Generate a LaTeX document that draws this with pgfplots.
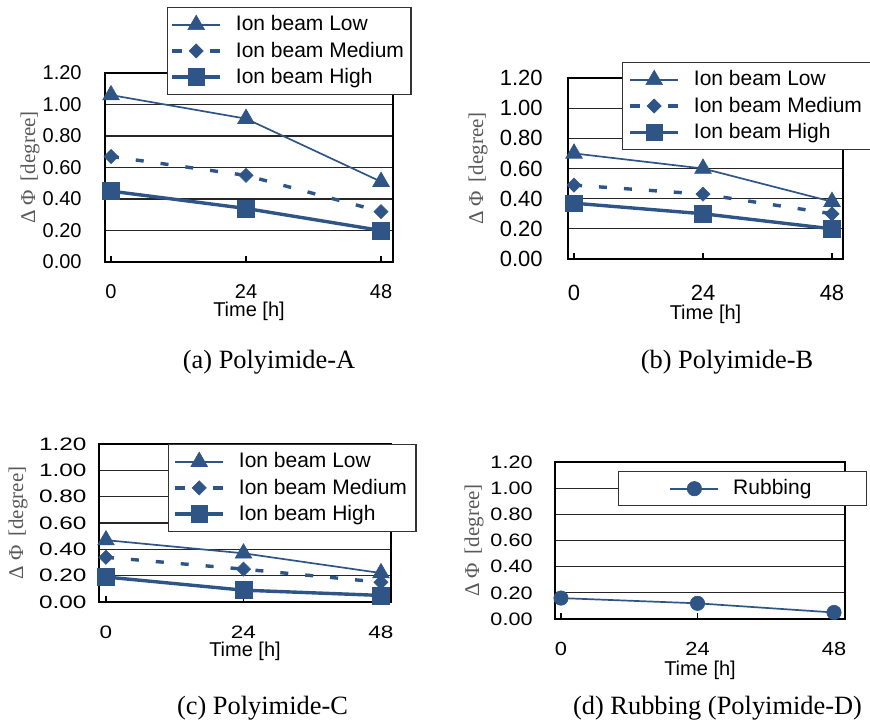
\documentclass[border=0pt]{standalone}
\usepackage{fontspec}
\setmainfont{Liberation Sans}
\newfontfamily\tnr{Liberation Serif}
\usepackage{pgfplots}
\pgfplotsset{compat=1.18}
\definecolor{dblue}{HTML}{2F5587}

\pgfplotsset{
  panel/.style={
    scale only axis, anchor=south west, clip=false,
    ymin=0, ymax=1.2,
    ytick={0,0.2,0.4,0.6,0.8,1.0,1.2},
    yticklabels={0.00,0.20,0.40,0.60,0.80,1.00,1.20},
    xtick={0,24,48}, xticklabels={0,24,48},
    ymajorgrids, grid style={black!85, line width=0.6pt},
    axis line style={line width=1.3pt},
    tick align=inside, xtick pos=left, ytick style={draw=none},
    xtick style={black, line width=0.6pt}, major tick length=3pt,
    xlabel={Time [h]},
    ylabel={Δ Φ \,[degree]},
    legend cell align=left,
    legend style={draw=black!80, line width=0.6pt, fill=white,
      inner xsep=1.5pt, inner ysep=2pt, column sep=5pt,
      font=\fontsize{10.5}{12}\selectfont,
      nodes={inner sep=2pt, text depth=0.15em}},
    legend image code/.code={
      \draw[mark repeat=2,mark phase=2,##1] plot coordinates {(0pt,0pt)(12pt,0pt)(24pt,0pt)};},
  },
  low/.style={color=dblue, line width=0.85pt, mark=triangle*, mark size=4.8pt,
    mark options={solid, line width=0.3pt}},
  med/.style={color=dblue, line width=1.7pt, dash pattern=on 4pt off 8.5pt,
    mark=square*, mark size=2.5pt, mark options={solid, rotate=45, line width=0.3pt},
    legend image post style={dash pattern=on 5pt off 14pt}},
  high/.style={color=dblue, line width=1.7pt, mark=square*, mark size=4.2pt,
    mark options={solid, line width=0.3pt}},
  rub/.style={color=dblue, line width=0.85pt, mark=*, mark size=3.6pt,
    mark options={solid, line width=0.3pt}},
}

\begin{document}
\begin{tikzpicture}
\useasboundingbox (0,0) rectangle (435pt,-362.5pt);

% (a)
\begin{axis}[panel, at={(52.5pt,-131pt)}, width=144pt, height=94.5pt,
  xmin=-1.07, xmax=50.13,
  legend style={at={(0.215,1.349)}, anchor=north west},
  yticklabel style={anchor=east, inner sep=0pt, xshift=-11.5pt, font=\fontsize{10}{12}\selectfont},
  xticklabel style={anchor=center, inner sep=0pt, yshift=-15pt, font=\fontsize{10}{12}\selectfont},
  xlabel style={at={(axis description cs:0.5,0)}, anchor=center, yshift=-24.5pt, font=\fontsize{10}{12}\selectfont},
  ylabel style={at={([xshift=-37.5pt]axis description cs:0,0.5)}, anchor=center, font=\tnr\fontsize{10.5}{12}\selectfont, text=black!65}]
\addplot[low] coordinates {(0,1.06) (24,0.91) (48,0.51)};
\addplot[med] coordinates {(0,0.67) (24,0.55) (48,0.32)};
\addplot[high] coordinates {(0,0.45) (24,0.34) (48,0.20)};
\legend{Ion beam Low, Ion beam Medium, Ion beam High}
\end{axis}

% (b)
\begin{axis}[panel, at={(284pt,-129.5pt)}, width=137.5pt, height=90.5pt,
  xmin=-1.12, xmax=50.05,
  legend style={at={(0.196,1.088)}, anchor=north west, inner xsep=3pt},
  yticklabel style={anchor=east, inner sep=0pt, xshift=-12.5pt, font=\fontsize{11}{13}\selectfont},
  xticklabel style={anchor=center, inner sep=0pt, yshift=-17pt, font=\fontsize{11}{13}\selectfont},
  xlabel style={at={(axis description cs:0.5,0)}, anchor=center, yshift=-27.5pt, font=\fontsize{10}{12}\selectfont},
  ylabel style={at={([xshift=-45pt]axis description cs:0,0.5)}, anchor=center, font=\tnr\fontsize{10.5}{12}\selectfont, text=black!65}]
\addplot[low] coordinates {(0,0.70) (24,0.60) (48,0.38)};
\addplot[med] coordinates {(0,0.49) (24,0.43) (48,0.30)};
\addplot[high] coordinates {(0,0.37) (24,0.30) (48,0.20)};
\legend{Ion beam Low, Ion beam Medium, Ion beam High}
\end{axis}

% (c)
\begin{axis}[panel, at={(49.5pt,-301pt)}, width=146pt, height=79pt,
  xmin=-1.22, xmax=49.75,
  legend style={at={(0.236,1.0)}, anchor=north west, inner xsep=2.5pt},
  yticklabel style={anchor=east, inner sep=0pt, xshift=-6pt, xscale=1.35, font=\fontsize{9}{11}\selectfont},
  xticklabel style={anchor=center, inner sep=0pt, yshift=-15pt, xscale=1.25, font=\fontsize{9}{11}\selectfont},
  xlabel style={at={(axis description cs:0.5,0)}, anchor=center, yshift=-24.5pt, font=\fontsize{10}{12}\selectfont},
  ylabel style={at={([xshift=-40.5pt]axis description cs:0,0.5)}, anchor=center, font=\tnr\fontsize{10.5}{12}\selectfont, text=black!65}]
\addplot[low] coordinates {(0,0.47) (24,0.37) (48,0.22)};
\addplot[med] coordinates {(0,0.34) (24,0.25) (48,0.15)};
\addplot[high] coordinates {(0,0.19) (24,0.09) (48,0.05)};
\legend{Ion beam Low, Ion beam Medium, Ion beam High}
\end{axis}

% (d)
\begin{axis}[panel, at={(277.5pt,-309.5pt)}, width=145pt, height=78.5pt,
  xmin=-1.05, xmax=49.93,
  legend style={at={(0.217,0.943)}, anchor=north west, inner xsep=25.5pt},
  yticklabel style={anchor=east, inner sep=0pt, xshift=-11pt, xscale=1.2, font=\fontsize{9}{11}\selectfont},
  xticklabel style={anchor=center, inner sep=0pt, yshift=-15pt, xscale=1.15, font=\fontsize{9.5}{11}\selectfont},
  xlabel style={at={(axis description cs:0.5,0)}, anchor=center, yshift=-25.5pt, font=\fontsize{10}{12}\selectfont},
  ylabel style={at={([xshift=-40.5pt]axis description cs:0,0.5)}, anchor=center, font=\tnr\fontsize{10.5}{12}\selectfont, text=black!65}]
\addplot[rub] coordinates {(0,0.16) (24,0.12) (48,0.05)};
\legend{Rubbing}
\end{axis}

\node[font=\tnr\fontsize{13.2}{15}\selectfont] at (134.5pt,-181pt) {(a) Polyimide-A};
\node[font=\tnr\fontsize{13.2}{15}\selectfont] at (363.5pt,-181pt) {(b) Polyimide-B};
\node[font=\tnr\fontsize{13.2}{15}\selectfont] at (131.25pt,-354pt) {(c) Polyimide-C};
\node[font=\tnr\fontsize{13.2}{15}\selectfont] at (358.75pt,-354pt) {(d) Rubbing (Polyimide-D)};
\end{tikzpicture}
\end{document}
